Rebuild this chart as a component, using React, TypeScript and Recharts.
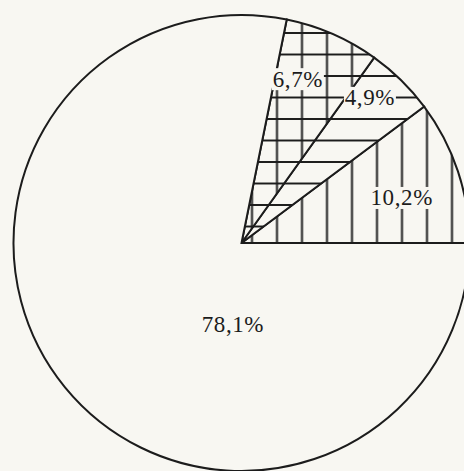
import { PieChart, Pie, Cell } from 'recharts';

// shares of the four slices, counter-clockwise from 3 o'clock
const sliceNames = ['slice-a', 'slice-b', 'slice-c', 'slice-d'];
const sliceValues = [10.2, 4.9, 6.7, 78.1];
const sliceLabels = ['10,2%', '4,9%', '6,7%', '78,1%'];

const data = sliceNames.map((name, i) => ({ name, value: sliceValues[i], label: sliceLabels[i] }));

const BG = '#f8f7f2';
const INK = '#1c1c1c';
const fills = ['url(#vert)', 'url(#horiz)', 'url(#grid)', BG];

// where each label sits: angle in degrees, radius as a share of outer radius
const labelPlace = [
  { angle: 15.7, r: 0.73 },
  { angle: 48.5, r: 0.85 },
  { angle: 71, r: 0.76 },
  { angle: 264, r: 0.36 },
];

const renderLabel = (props: any) => {
  const { cx, cy, outerRadius, index } = props;
  const p = labelPlace[index];
  const rad = (p.angle * Math.PI) / 180;
  const x = cx + outerRadius * p.r * Math.cos(rad);
  const y = cy - outerRadius * p.r * Math.sin(rad);
  const text = data[index].label;
  const w = text.length * 13;
  return (
    <g key={`lbl-${index}`}>
      {index < 3 && <rect x={x - w / 2} y={y - 11} width={w} height={22} fill={BG} />}
      <text
        x={x}
        y={y}
        textAnchor="middle"
        dominantBaseline="central"
        fontFamily="'Liberation Serif', 'DejaVu Serif', serif"
        fontSize={23}
        letterSpacing={0.6}
        fill={INK}
      >
        {text}
      </text>
    </g>
  );
};

export default function App() {
  return (
    <div style={{ position: 'absolute', left: 0, top: 0, width: 464, height: 471, background: BG }}>
      <PieChart width={464} height={471} margin={{ top: 0, right: 0, bottom: 0, left: 0 }}>
        <defs>
          <pattern id="vert" patternUnits="userSpaceOnUse" x={239.5} y={0} width={25} height={25}>
            <rect width={25} height={25} fill={BG} />
            <line x1={12.5} y1={0} x2={12.5} y2={25} stroke={INK} strokeWidth={2} />
          </pattern>
          <pattern id="horiz" patternUnits="userSpaceOnUse" x={0} y={22.25} width={25} height={21.5}>
            <rect width={25} height={21.5} fill={BG} />
            <line x1={0} y1={10.75} x2={25} y2={10.75} stroke={INK} strokeWidth={2} />
          </pattern>
          <pattern id="grid" patternUnits="userSpaceOnUse" x={239.5} y={22.25} width={25} height={21.5}>
            <rect width={25} height={21.5} fill={BG} />
            <line x1={12.5} y1={0} x2={12.5} y2={21.5} stroke={INK} strokeWidth={2} />
            <line x1={0} y1={10.75} x2={25} y2={10.75} stroke={INK} strokeWidth={2} />
          </pattern>
        </defs>
        <Pie
          data={data}
          dataKey="value"
          nameKey="name"
          cx={241.5}
          cy={243}
          outerRadius={228}
          startAngle={0}
          endAngle={360}
          stroke={INK}
          strokeWidth={2}
          label={renderLabel}
          labelLine={false}
          isAnimationActive={false}
        >
          {data.map((d, i) => (
            <Cell key={d.name} fill={fills[i]} />
          ))}
        </Pie>
      </PieChart>
    </div>
  );
}
